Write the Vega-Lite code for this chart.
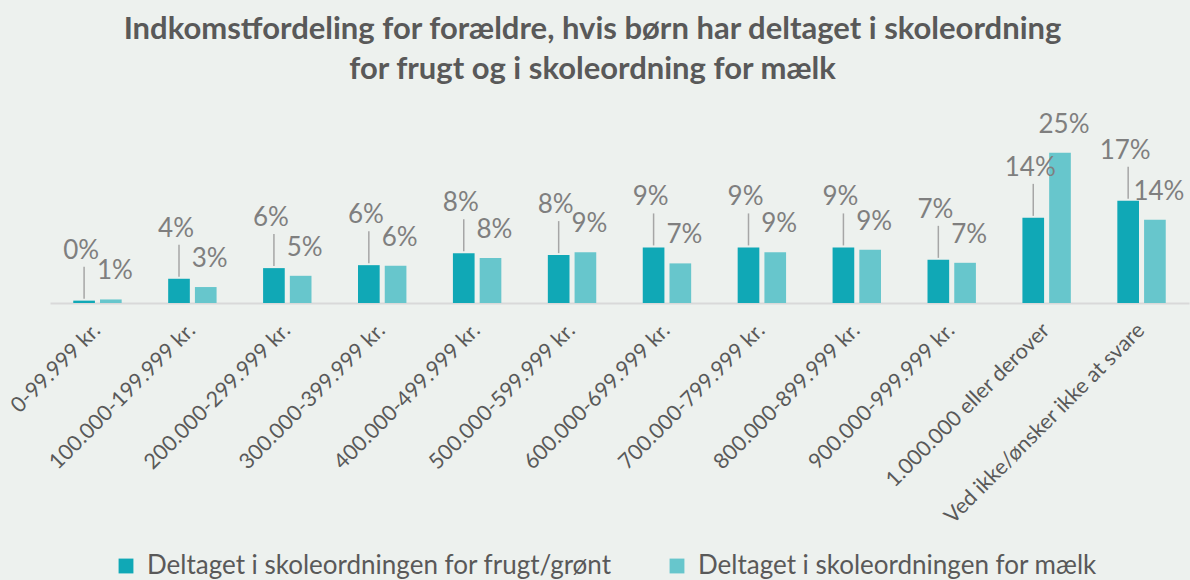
{
  "$schema": "https://vega.github.io/schema/vega-lite/v6.json",
  "width": 1139,
  "height": 201,
  "autosize": "none",
  "padding": {"left": 50, "top": 102, "right": 1, "bottom": 277},
  "background": "#EDF1EE",
  "title": {
    "text": ["Indkomstfordeling for forældre, hvis børn har deltaget i skoleordning", "for frugt og i skoleordning for mælk"],
    "font": "Lato",
    "fontSize": 31,
    "fontWeight": "bold",
    "color": "#595959",
    "anchor": "middle",
    "frame": "group",
    "lineHeight": 40,
    "offset": 16,
    "dx": -27
  },
  "config": {"view": {"stroke": null}, "font": "Lato"},
  "data": {
    "values": [
      {"k": "0-99.999 kr.", "s": "Deltaget i skoleordningen for frugt/grønt", "v": 0.004},
      {"k": "0-99.999 kr.", "s": "Deltaget i skoleordningen for mælk", "v": 0.006},
      {"k": "100.000-199.999 kr.", "s": "Deltaget i skoleordningen for frugt/grønt", "v": 0.041},
      {"k": "100.000-199.999 kr.", "s": "Deltaget i skoleordningen for mælk", "v": 0.027},
      {"k": "200.000-299.999 kr.", "s": "Deltaget i skoleordningen for frugt/grønt", "v": 0.059},
      {"k": "200.000-299.999 kr.", "s": "Deltaget i skoleordningen for mælk", "v": 0.046},
      {"k": "300.000-399.999 kr.", "s": "Deltaget i skoleordningen for frugt/grønt", "v": 0.064},
      {"k": "300.000-399.999 kr.", "s": "Deltaget i skoleordningen for mælk", "v": 0.063},
      {"k": "400.000-499.999 kr.", "s": "Deltaget i skoleordningen for frugt/grønt", "v": 0.084},
      {"k": "400.000-499.999 kr.", "s": "Deltaget i skoleordningen for mælk", "v": 0.076},
      {"k": "500.000-599.999 kr.", "s": "Deltaget i skoleordningen for frugt/grønt", "v": 0.081},
      {"k": "500.000-599.999 kr.", "s": "Deltaget i skoleordningen for mælk", "v": 0.086},
      {"k": "600.000-699.999 kr.", "s": "Deltaget i skoleordningen for frugt/grønt", "v": 0.094},
      {"k": "600.000-699.999 kr.", "s": "Deltaget i skoleordningen for mælk", "v": 0.067},
      {"k": "700.000-799.999 kr.", "s": "Deltaget i skoleordningen for frugt/grønt", "v": 0.094},
      {"k": "700.000-799.999 kr.", "s": "Deltaget i skoleordningen for mælk", "v": 0.086},
      {"k": "800.000-899.999 kr.", "s": "Deltaget i skoleordningen for frugt/grønt", "v": 0.094},
      {"k": "800.000-899.999 kr.", "s": "Deltaget i skoleordningen for mælk", "v": 0.090},
      {"k": "900.000-999.999 kr.", "s": "Deltaget i skoleordningen for frugt/grønt", "v": 0.073},
      {"k": "900.000-999.999 kr.", "s": "Deltaget i skoleordningen for mælk", "v": 0.068},
      {"k": "1.000.000 eller derover", "s": "Deltaget i skoleordningen for frugt/grønt", "v": 0.144},
      {"k": "1.000.000 eller derover", "s": "Deltaget i skoleordningen for mælk", "v": 0.254},
      {"k": "Ved ikke/ønsker ikke at svare", "s": "Deltaget i skoleordningen for frugt/grønt", "v": 0.173},
      {"k": "Ved ikke/ønsker ikke at svare", "s": "Deltaget i skoleordningen for mælk", "v": 0.141}
    ]
  },
  "encoding": {
    "x": {
      "field": "k",
      "type": "nominal",
      "sort": null,
      "scale": {"paddingInner": 0.49, "paddingOuter": 0.245},
      "axis": {
        "title": null,
        "labelAngle": -45,
        "labelAlign": "right",
        "labelBaseline": "middle",
        "labelFontSize": 21.5,
        "labelFont": "Lato",
        "labelColor": "#595959",
        "ticks": false,
        "labelPadding": 24,
        "domainColor": "#D9D9D9",
        "domainWidth": 2,
        "labelLimit": 400
      }
    },
    "xOffset": {"field": "s", "type": "nominal", "sort": null, "scale": {"paddingInner": 0.19, "paddingOuter": 0}},
    "y": {"field": "v", "type": "quantitative", "scale": {"domain": [0, 0.34]}, "axis": null}
  },
  "layer": [
    {
      "mark": {"type": "bar"},
      "encoding": {
        "color": {
          "field": "s",
          "type": "nominal",
          "sort": null,
          "scale": {"range": ["#10A8B6", "#67C6CC"]},
          "legend": {
            "orient": "none",
            "legendX": 63,
            "legendY": 451,
            "direction": "horizontal",
            "title": null,
            "symbolType": "square",
            "symbolSize": 220,
            "symbolStrokeWidth": 0,
            "labelFontSize": 26,
            "labelFont": "Lato",
            "labelColor": "#595959",
            "labelOffset": 8,
            "columnPadding": 52,
            "labelLimit": 700
          }
        }
      }
    },
    {
      "transform": [{"filter": "datum.s === 'Deltaget i skoleordningen for frugt/grønt'"}],
      "mark": {"type": "rule", "color": "#A6A6A6", "strokeWidth": 1.5, "yOffset": -2, "y2Offset": -34},
      "encoding": {"y2": {"field": "v"}}
    },
    {
      "transform": [{"filter": "datum.s === 'Deltaget i skoleordningen for frugt/grønt'"}],
      "mark": {"type": "text", "fontSize": 26, "font": "Lato", "color": "#7F7F7F", "baseline": "middle", "yOffset": -50, "dx": -3},
      "encoding": {"text": {"field": "v", "type": "quantitative", "format": ".0%"}}
    },
    {
      "transform": [{"filter": "datum.s === 'Deltaget i skoleordningen for mælk'"}],
      "mark": {"type": "text", "fontSize": 26, "font": "Lato", "color": "#7F7F7F", "baseline": "middle", "yOffset": -28, "dx": 4},
      "encoding": {"text": {"field": "v", "type": "quantitative", "format": ".0%"}}
    }
  ]
}
